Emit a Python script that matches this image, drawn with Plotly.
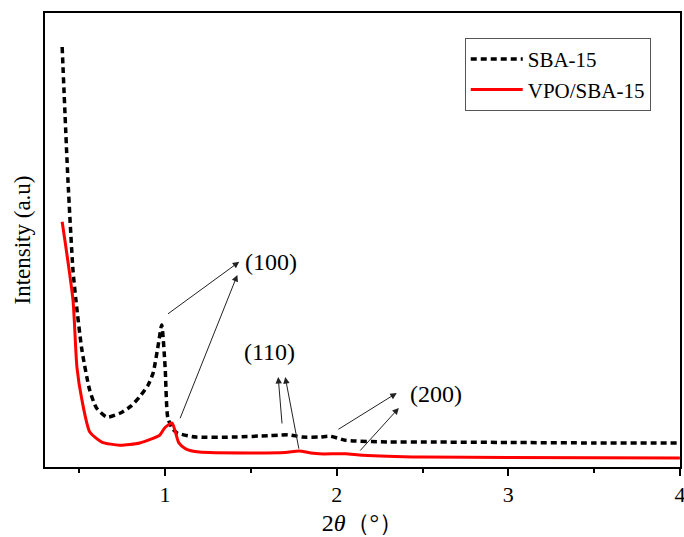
import plotly.graph_objects as go

# Small-angle XRD patterns (2θ in degrees, intensity in arbitrary units)
sba_x = [0.40, 0.434, 0.463, 0.48, 0.515, 0.56, 0.60, 0.66, 0.74, 0.80, 0.85, 0.90,
         0.93, 0.96, 0.98, 1.00, 1.015, 1.04, 1.07, 1.18, 1.40, 1.60, 1.66, 1.72,
         1.80, 1.90, 1.96, 2.05, 2.30, 2.55, 3.00, 3.50, 4.00]
sba_y = [92.5, 63.0, 43.4, 36.8, 25.8, 17.0, 13.0, 11.0, 11.9, 13.4, 15.4, 18.0,
         20.7, 26.9, 31.3, 22.0, 11.0, 8.6, 7.5, 6.6, 6.6, 6.9, 7.0, 7.1,
         6.6, 6.6, 6.8, 5.9, 5.5, 5.5, 5.4, 5.3, 5.3]

vpo_x = [0.40, 0.463, 0.486, 0.515, 0.561, 0.631, 0.736, 0.852, 0.968, 0.997,
         1.04, 1.06, 1.08, 1.12, 1.20, 1.50, 1.70, 1.78, 1.85, 1.90, 2.05,
         2.15, 2.50, 3.00, 4.00]
vpo_y = [54.0, 36.8, 22.0, 14.8, 7.7, 5.5, 4.8, 5.3, 7.0, 8.6,
         9.7, 7.7, 5.3, 4.0, 3.3, 3.1, 3.2, 3.5, 3.1, 2.9, 2.9,
         2.6, 2.2, 2.1, 2.0]

x_ticks = [1, 2, 3, 4]

# Reflection labels and their arrows: (head x, head y, tail x, tail y)
peak_labels = [("(100)", 1.618, 45.2), ("(110)", 1.607, 25.3), ("(200)", 2.576, 16.1)]
peak_arrows = [
    (1.432, 45.2, 1.008, 33.5),
    (1.421, 42.3, 1.084, 10.4),
    (1.659, 19.8, 1.682, 9.25),
    (1.700, 19.8, 1.781, 3.7),
    (2.350, 16.3, 2.001, 8.1),
    (2.362, 13.0, 2.129, 3.3),
]

FONT = "Liberation Serif, Times New Roman, serif"

fig = go.Figure()
fig.add_trace(go.Scatter(x=sba_x, y=sba_y, mode="lines", name="SBA-15",
                         line=dict(color="black", width=3.5, dash="6px,4px", shape="spline", smoothing=0.6)))
fig.add_trace(go.Scatter(x=vpo_x, y=vpo_y, mode="lines", name="VPO/SBA-15",
                         line=dict(color="#ff0000", width=3, shape="spline", smoothing=0.6)))

for text, lx, ly in peak_labels:
    fig.add_annotation(x=lx, y=ly, text=text, showarrow=False,
                       font=dict(family=FONT, size=24, color="black"))

for hx, hy, tx, ty in peak_arrows:
    fig.add_annotation(x=hx, y=hy, ax=tx, ay=ty, xref="x", yref="y", axref="x", ayref="y",
                       text="", showarrow=True, arrowhead=2, arrowsize=1.3, arrowwidth=1,
                       arrowcolor="#222222", standoff=0, startstandoff=0)

fig.update_layout(
    width=684, height=537,
    margin=dict(l=45, r=2, t=13, b=70),
    paper_bgcolor="white", plot_bgcolor="white",
    font=dict(family=FONT, size=22, color="black"),
    showlegend=True,
    legend=dict(x=0.661, y=0.945, xanchor="left", yanchor="top",
                bgcolor="white", bordercolor="#555555", borderwidth=1,
                font=dict(family=FONT, size=21), tracegroupgap=0, itemwidth=52),
    xaxis=dict(range=[0.3, 4.0005], tickvals=x_ticks, ticks="outside", ticklen=7, tickwidth=2,
               tickcolor="black", showline=True, linecolor="black", linewidth=2, mirror=True,
               showgrid=False, zeroline=False, ticklabeloverflow="allow", automargin=False,
               minor=dict(tickvals=[0.5, 1.5, 2.5, 3.5], ticks="outside", ticklen=4, tickwidth=2,
                          tickcolor="black"),
               tickfont=dict(family=FONT, size=22),
               title=dict(text="2<i>θ</i>（°）", font=dict(family=FONT, size=24), standoff=8)),
    yaxis=dict(range=[0, 100], showticklabels=False, ticks="", showline=True, linecolor="black",
               linewidth=2, mirror=True, showgrid=False, zeroline=False,
               title=dict(text="Intensity (a.u)", font=dict(family=FONT, size=23), standoff=6)),
)

fig.write_html("out.html")
